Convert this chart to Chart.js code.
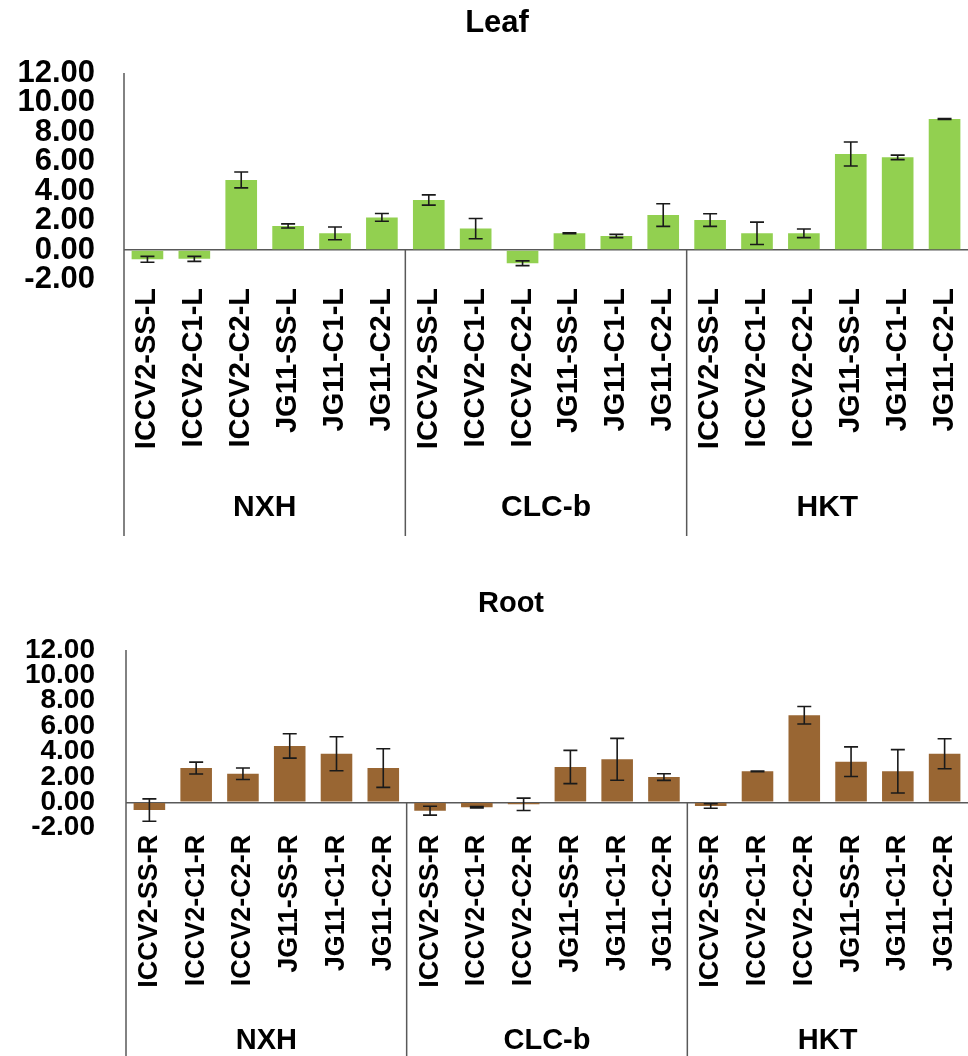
<!DOCTYPE html>
<html>
<head>
<meta charset="utf-8">
<script src="https://cdn.jsdelivr.net/npm/chart.js@4/dist/chart.umd.min.js"></script>
<style>
  html, body { margin: 0; padding: 0; background: #fff; }
  #wrap { position: relative; width: 968px; height: 1056px; }
  canvas { position: absolute; left: 0; }
</style>
</head>
<body>
<div id="wrap">
  <canvas id="leaf" width="968" height="536" style="top:0"></canvas>
  <canvas id="root" width="968" height="496" style="top:560px"></canvas>
</div>
<script>
// Gene groups shown under the category labels
const genes = ['NXH', 'CLC-b', 'HKT'];

// Category labels (six genotype/treatment samples per gene)
const leafLabels = [
  'ICCV2-SS-L', 'ICCV2-C1-L', 'ICCV2-C2-L', 'JG11-SS-L', 'JG11-C1-L', 'JG11-C2-L',
  'ICCV2-SS-L', 'ICCV2-C1-L', 'ICCV2-C2-L', 'JG11-SS-L', 'JG11-C1-L', 'JG11-C2-L',
  'ICCV2-SS-L', 'ICCV2-C1-L', 'ICCV2-C2-L', 'JG11-SS-L', 'JG11-C1-L', 'JG11-C2-L'
];
const rootLabels = [
  'ICCV2-SS-R', 'ICCV2-C1-R', 'ICCV2-C2-R', 'JG11-SS-R', 'JG11-C1-R', 'JG11-C2-R',
  'ICCV2-SS-R', 'ICCV2-C1-R', 'ICCV2-C2-R', 'JG11-SS-R', 'JG11-C1-R', 'JG11-C2-R',
  'ICCV2-SS-R', 'ICCV2-C1-R', 'ICCV2-C2-R', 'JG11-SS-R', 'JG11-C1-R', 'JG11-C2-R'
];

// Relative expression values and their standard errors
const leafValues = [-0.63, -0.60, 4.75, 1.63, 1.13, 2.21,
                     3.39, 1.45, -0.90, 1.13, 0.95, 2.37,
                     2.03, 1.13, 1.13, 6.51, 6.28, 8.88];
const leafErrors = [0.20, 0.17, 0.54, 0.14, 0.43, 0.26,
                    0.35, 0.69, 0.16, 0.03, 0.11, 0.77,
                    0.43, 0.76, 0.29, 0.81, 0.15, 0.03];

const rootValues = [-0.61, 2.70, 2.25, 4.44, 3.83, 2.70,
                    -0.66, -0.39, -0.16, 2.78, 3.39, 1.99,
                    -0.29, 2.44, 6.86, 3.20, 2.44, 3.83];
const rootErrors = [0.88, 0.47, 0.45, 0.96, 1.34, 1.52,
                    0.35, 0.05, 0.49, 1.31, 1.65, 0.26,
                    0.18, 0.03, 0.69, 1.17, 1.71, 1.18];

// Value-axis tick marks
const yTicks = [-2, 0, 2, 4, 6, 8, 10, 12];

const FONT = "'Liberation Sans', Arial, sans-serif";
const AXIS_COLOR = '#595959';

function buildPanel(id, cfg) {
  const perGene = cfg.labels.length / genes.length;

  // Error bars with caps, drawn from the value and error arrays
  const errorBars = {
    id: 'errorBars',
    afterDatasetsDraw(chart) {
      const { ctx, scales: { y } } = chart;
      const meta = chart.getDatasetMeta(0);
      ctx.save();
      ctx.strokeStyle = '#1a1a1a';
      ctx.lineWidth = 1.6;
      meta.data.forEach((bar, i) => {
        const v = cfg.values[i], e = cfg.errors[i];
        const yt = y.getPixelForValue(v + e);
        const yb = y.getPixelForValue(v - e);
        const x = bar.x, cap = 7;
        ctx.beginPath();
        ctx.moveTo(x, yt); ctx.lineTo(x, yb);
        ctx.moveTo(x - cap, yt); ctx.lineTo(x + cap, yt);
        ctx.moveTo(x - cap, yb); ctx.lineTo(x + cap, yb);
        ctx.stroke();
      });
      ctx.restore();
    }
  };

  // Value axis line, gene separators, gene names and panel title
  const frame = {
    id: 'frame',
    afterDraw(chart) {
      const { ctx, chartArea: a, scales: { x, y } } = chart;
      const bottom = chart.height;
      const y0 = y.getPixelForValue(0);
      const sep = k => (x.getPixelForValue(k * perGene - 1) + x.getPixelForValue(k * perGene)) / 2;
      ctx.save();
      ctx.strokeStyle = AXIS_COLOR;
      ctx.lineWidth = 1.5;
      ctx.beginPath();
      ctx.moveTo(a.left, a.top);
      ctx.lineTo(a.left, bottom);
      for (let k = 1; k < genes.length; k++) {
        const sx = sep(k);
        ctx.moveTo(sx, y0);
        ctx.lineTo(sx, bottom);
      }
      ctx.stroke();

      ctx.fillStyle = '#000';
      ctx.textAlign = 'center';
      ctx.textBaseline = 'middle';
      ctx.font = `bold ${cfg.groupFont}px ${FONT}`;
      genes.forEach((g, k) => {
        const l = k === 0 ? a.left : sep(k);
        const r = k === genes.length - 1 ? a.right : sep(k + 1);
        ctx.fillText(g, (l + r) / 2, cfg.groupY);
      });
      ctx.font = `bold ${cfg.titleFont}px ${FONT}`;
      ctx.fillText(cfg.title, cfg.titleX, cfg.titleY);
      ctx.restore();
    }
  };

  return new Chart(document.getElementById(id), {
    type: 'bar',
    data: {
      labels: cfg.labels,
      datasets: [{
        data: cfg.values,
        backgroundColor: cfg.color,
        borderWidth: 0,
        categoryPercentage: 1,
        barPercentage: 0.675
      }]
    },
    options: {
      responsive: false,
      animation: false,
      devicePixelRatio: 1,
      layout: { padding: { top: cfg.top, left: 0, right: 0, bottom: 0 } },
      plugins: { legend: { display: false }, tooltip: { enabled: false }, title: { display: false } },
      scales: {
        x: {
          ticks: {
            minRotation: 90, maxRotation: 90, autoSkip: false,
            padding: cfg.xPad, color: '#000',
            font: { family: FONT, size: cfg.xFont, weight: 'bold', lineHeight: 1 }
          },
          grid: { display: false, drawTicks: false },
          border: { display: false },
          afterFit(s) { s.height = cfg.xHeight; s.paddingLeft = 0; s.paddingRight = 0; }
        },
        y: {
          min: -2, max: 12,
          afterBuildTicks(s) { s.ticks = yTicks.map(v => ({ value: v })); },
          ticks: {
            autoSkip: false, padding: cfg.yPad, color: '#000',
            font: { family: FONT, size: cfg.yFont, weight: 'bold', lineHeight: 1 },
            callback: v => Number(v).toFixed(2)
          },
          grid: {
            drawTicks: false, lineWidth: 1.5,
            color: c => (c.tick && c.tick.value === 0) ? AXIS_COLOR : 'rgba(0,0,0,0)'
          },
          border: { display: false },
          afterFit(s) { s.width = cfg.left; s.paddingTop = 0; s.paddingBottom = 0; }
        }
      }
    },
    plugins: [errorBars, frame]
  });
}

buildPanel('leaf', {
  title: 'Leaf', titleX: 497, titleY: 23, titleFont: 31,
  labels: leafLabels, values: leafValues, errors: leafErrors, color: '#92D050',
  top: 73, left: 124, xHeight: 256.5, xPad: 8.5,
  yFont: 31, yPad: 29, xFont: 29, groupFont: 30, groupY: 508
});

buildPanel('root', {
  title: 'Root', titleX: 511, titleY: 44, titleFont: 29,
  labels: rootLabels, values: rootValues, errors: rootErrors, color: '#996633',
  top: 90, left: 126, xHeight: 228.3, xPad: 7,
  yFont: 28, yPad: 31, xFont: 27, groupFont: 29, groupY: 481
});
</script>
</body>
</html>
